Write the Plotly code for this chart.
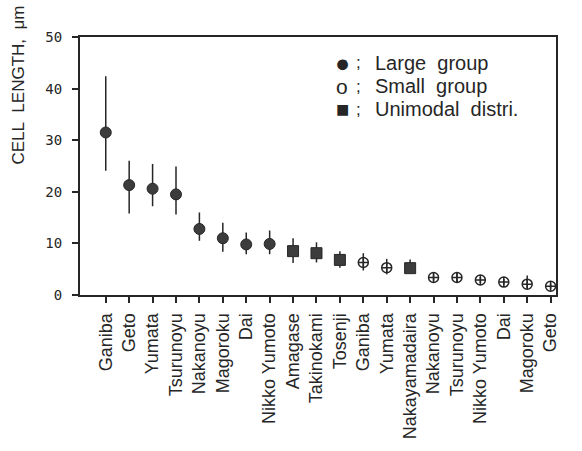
import plotly.graph_objects as go

categories = ["Ganiba", "Geto", "Yumata", "Tsurunoyu", "Nakanoyu", "Magoroku", "Dai",
              "Nikko Yumoto", "Amagase", "Takinokami", "Tosenji", "Ganiba", "Yumata",
              "Nakayamadaira", "Nakanoyu", "Tsurunoyu", "Nikko Yumoto", "Dai", "Magoroku", "Geto"]
groups = ["L", "L", "L", "L", "L", "L", "L", "L", "U", "U", "U", "S", "S",
          "U", "S", "S", "S", "S", "S", "S"]
mean_len = [31.5, 21.3, 20.6, 19.5, 12.8, 11.0, 9.8, 9.9, 8.5, 8.1, 6.8, 6.3, 5.3,
            5.2, 3.4, 3.4, 2.9, 2.5, 2.1, 1.7]
err_hi = [42.4, 26.0, 25.4, 24.9, 16.0, 14.0, 12.1, 12.5, 11.0, 10.2, 8.5, 8.1, 7.0,
          6.9, 4.0, 4.2, 3.5, 3.1, 3.8, 2.2]
err_lo = [24.1, 15.8, 17.2, 15.6, 10.5, 8.4, 7.9, 7.9, 6.2, 6.3, 5.3, 4.75, 4.0,
          4.2, 2.8, 2.5, 2.3, 1.9, 1.35, 1.2]
y_ticks = [0, 10, 20, 30, 40, 50]
legend_symbols = ["●", "o", "■"]
legend_texts = ["Large\u00a0\u00a0group", "Small\u00a0\u00a0group", "Unimodal\u00a0\u00a0distri."]
y_title = "CELL\u00a0\u00a0LENGTH,\u00a0\u00a0μm"

FONT = "Liberation Sans, Arial"
INK = "#262626"
PL, PR, PT, PB = 80, 556, 37, 297  # plot area in pixels

x_idx = list(range(len(categories)))
fig = go.Figure()

styles = {
    "L": dict(symbol="circle", size=11, color="#3c3c3c", line=dict(color=INK, width=1)),
    "S": dict(symbol="circle-cross-open", size=10, color=INK, line=dict(color=INK, width=1.5)),
    "U": dict(symbol="square", size=11, color="#3c3c3c", line=dict(color=INK, width=1)),
}
for g in ["L", "U", "S"]:
    idx = [i for i in x_idx if groups[i] == g]
    fig.add_trace(go.Scatter(
        x=idx, y=[mean_len[i] for i in idx], mode="markers",
        marker=styles[g],
        error_y=dict(type="data", symmetric=False,
                     array=[err_hi[i] - mean_len[i] for i in idx],
                     arrayminus=[mean_len[i] - err_lo[i] for i in idx],
                     color=INK, thickness=1.5, width=0),
        showlegend=False))

def px_to_paper(xp, yp):
    return (xp - PL) / (PR - PL), (PB - yp) / (PB - PT)

sym_sizes = {"●": 25, "o": 21, "■": 22}
for k, (s, t) in enumerate(zip(legend_symbols, legend_texts)):
    yy = 63 + 23.5 * k
    sx, sy = px_to_paper(342, yy)
    fig.add_annotation(x=sx, y=sy, xref="paper", yref="paper", text=s,
                       showarrow=False, xanchor="center", yanchor="middle",
                       font=dict(family=FONT, size=sym_sizes[s], color=INK))
    cx, cy = px_to_paper(354, yy)
    fig.add_annotation(x=cx, y=cy, xref="paper", yref="paper", text=";",
                       showarrow=False, xanchor="left", yanchor="middle",
                       font=dict(family=FONT, size=17, color=INK))
    ax, ay = px_to_paper(373, yy)
    fig.add_annotation(x=ax, y=ay, xref="paper", yref="paper", text=t,
                       showarrow=False, xanchor="left", yanchor="middle",
                       font=dict(family=FONT, size=20, color=INK))

tx, ty = px_to_paper(19, 86)
fig.add_annotation(x=tx, y=ty, xref="paper", yref="paper", text=y_title, textangle=-90,
                   showarrow=False, xanchor="center", yanchor="middle",
                   font=dict(family=FONT, size=17, color=INK))

fig.update_layout(
    width=582, height=451, margin=dict(l=PL, r=582 - PR, t=PT, b=451 - PB),
    paper_bgcolor="white", plot_bgcolor="white",
    font=dict(family=FONT, color=INK),
    xaxis=dict(range=[-1.1, 19.23], tickmode="array", tickvals=x_idx, ticktext=categories,
               tickangle=-90, ticks="outside", ticklen=6, tickwidth=1.5, tickcolor=INK,
               ticklabelstandoff=3,
               showline=True, linecolor=INK, linewidth=2, mirror=True, showgrid=False,
               zeroline=False, tickfont=dict(size=18, family=FONT, color=INK)),
    yaxis=dict(range=[0, 50], tickmode="array", tickvals=y_ticks,
               ticktext=[str(v) for v in y_ticks],
               ticks="outside", ticklen=6, tickwidth=1.5, tickcolor=INK,
               ticklabelstandoff=7,
               showline=True, linecolor=INK, linewidth=2, mirror=True, showgrid=False,
               zeroline=False, tickfont=dict(size=14, family="DejaVu Sans Mono", color=INK)),
)
fig.write_html("out.html", config={"displayModeBar": False},
               post_script="document.body.style.margin='0';")
